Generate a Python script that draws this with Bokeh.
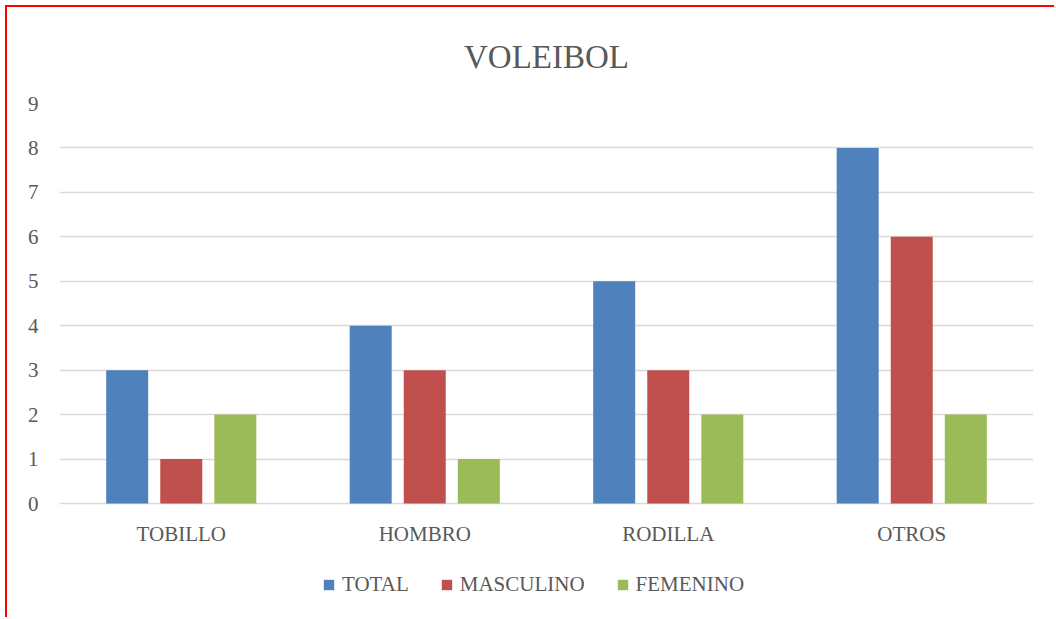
from bokeh.plotting import figure
from bokeh.models import (ColumnDataSource, FactorRange, Range1d, FixedTicker, Legend,
                          LegendItem, CategoricalAxis)
from bokeh.transform import dodge
from bokeh.embed import file_html
from bokeh.resources import INLINE

categories = ["TOBILLO", "HOMBRO", "RODILLA", "OTROS"]
total = [3, 4, 5, 8]
masculino = [1, 3, 3, 6]
femenino = [2, 1, 2, 2]
series_names = ["TOTAL", "MASCULINO", "FEMENINO"]
colors = ["#4F81BD", "#C0504D", "#9BBB59"]
y_ticks = list(range(10))

src = ColumnDataSource(dict(cat=categories, TOTAL=total, MASCULINO=masculino, FEMENINO=femenino))

FONT = "Liberation Serif"
GREY = "#595959"

# frame extends below the zero line so the legend can sit inside it
p = figure(x_range=FactorRange(*categories, range_padding=0), y_range=Range1d(-2.61, 9),
           width=1049, height=612, output_backend="svg", toolbar_location=None,
           x_axis_location=None,
           min_border_left=52, min_border_right=23, min_border_top=96, min_border_bottom=0)

p.title.text = "VOLEIBOL"
p.title.align = "center"
p.title.text_font = FONT
p.title.text_font_size = "33px"
p.title.text_font_style = "normal"
p.title.text_color = GREY
p.title.standoff = 57

offsets = [-0.222, 0.0, 0.222]
items = []
for name, col, off in zip(series_names, colors, offsets):
    r = p.vbar(x=dodge("cat", off, range=p.x_range), top=name, width=0.1725, source=src,
               fill_color=col, line_color=None)
    items.append(LegendItem(label=name, renderers=[r]))

legend = Legend(items=items, orientation="horizontal", location=(263, 22),
                label_text_font=FONT, label_text_font_size="21px", label_text_color=GREY,
                glyph_width=13, glyph_height=13, label_standoff=7, spacing=31,
                border_line_color=None, background_fill_alpha=0, margin=0, padding=0)
p.add_layout(legend, "center")

xaxis = CategoricalAxis(fixed_location=0)
p.add_layout(xaxis, "below")

p.xgrid.grid_line_color = None
p.ygrid.grid_line_color = "#d9d9d9"
p.ygrid.grid_line_width = 1.5
p.yaxis.ticker = FixedTicker(ticks=y_ticks)
p.ygrid.ticker = FixedTicker(ticks=y_ticks)

for ax in (xaxis, p.yaxis[0]):
    ax.axis_line_color = None
    ax.major_tick_line_color = None
    ax.minor_tick_line_color = None
    ax.major_label_text_font = FONT
    ax.major_label_text_font_size = "21px"
    ax.major_label_text_color = GREY
p.yaxis.major_label_standoff = 15
xaxis.major_label_standoff = 12
p.outline_line_color = None
p.styles = {"margin-left": "5px", "margin-top": "5px",
            "border-top": "2px solid red", "border-left": "2px solid red"}

open("out.html", "w").write(file_html(p, INLINE))
